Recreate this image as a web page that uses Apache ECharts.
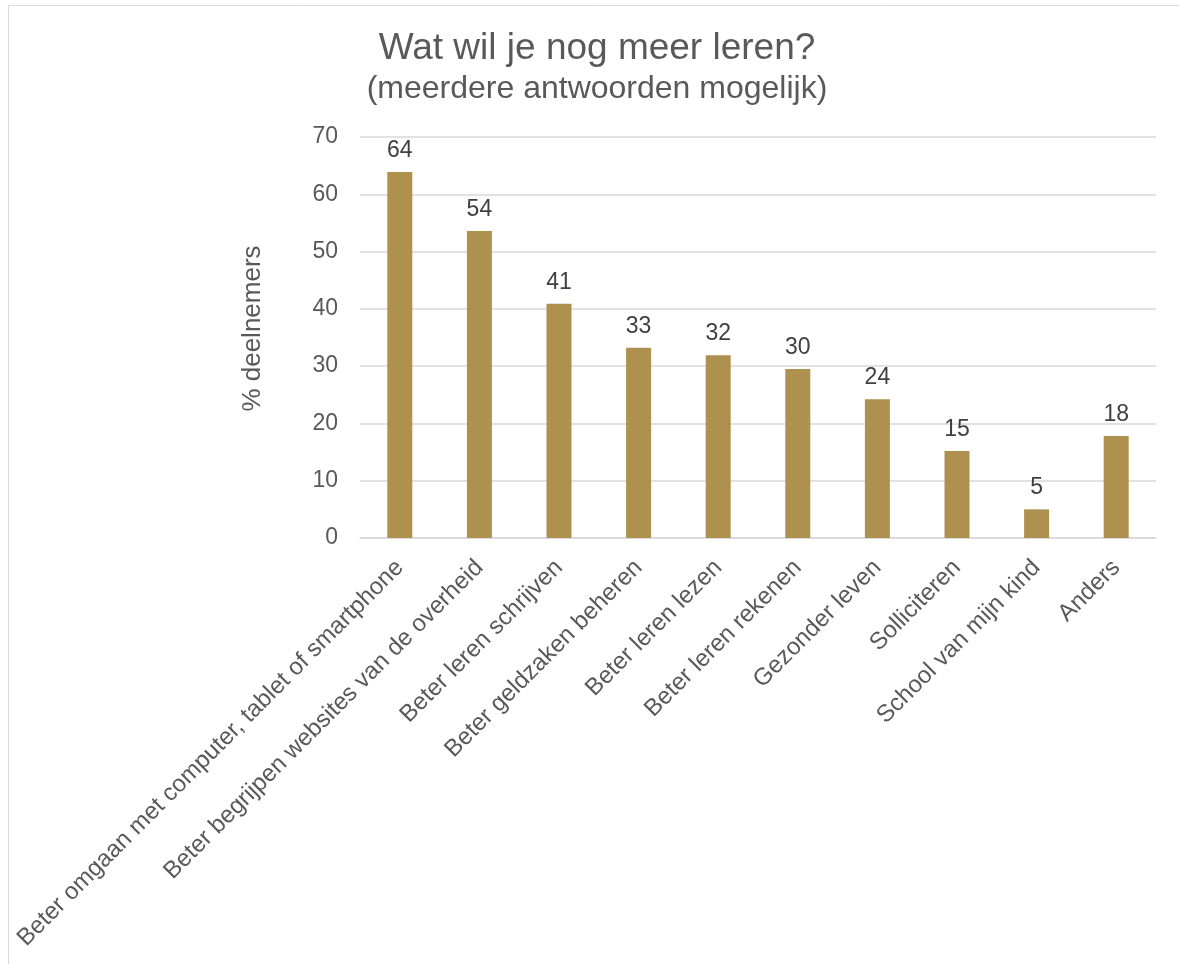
<!DOCTYPE html>
<html>
<head>
    <meta http-equiv="Content-Type" content="text/html; charset=utf-8">
    <title>Wat wil je nog meer leren?</title>
    <script src="https://cdn.jsdelivr.net/npm/echarts@6/dist/echarts.min.js"></script>
    <style>
        html, body {margin:0; padding:0; background:#fff;}
    </style>
</head>
<body>
    <div id="main" style="width: 1179px;height:964px;"></div>
    <script type="text/javascript">
        // data
        var categories = [
            'Beter omgaan met computer, tablet of smartphone',
            'Beter begrijpen websites van de overheid',
            'Beter leren schrijven',
            'Beter geldzaken beheren',
            'Beter leren lezen',
            'Beter leren rekenen',
            'Gezonder leven',
            'Solliciteren',
            'School van mijn kind',
            'Anders'
        ];
        var percentages = [63.9, 53.6, 40.9, 33.2, 31.9, 29.5, 24.2, 15.2, 5.0, 17.8];
        var yTicks = [0, 10, 20, 30, 40, 50, 60, 70];

        var font = 'Liberation Sans, Arial, sans-serif';
        var myChart = echarts.init(document.getElementById('main'));

        var option = {
            backgroundColor: '#fff',
            animation: false,
            textStyle: {fontFamily: font},
            graphic: [{
                type: 'rect',
                shape: {x: 8.5, y: 5.5, width: 1300, height: 1100},
                style: {fill: 'none', stroke: '#d9d9d9', lineWidth: 1},
                silent: true
            }],
            title: [{
                text: 'Wat wil je nog meer leren?',
                left: 592, top: 25, textAlign: 'center',
                textStyle: {fontFamily: font, fontSize: 37, fontWeight: 'normal', color: '#595959'}
            }, {
                text: '(meerdere antwoorden mogelijk)',
                left: 592, top: 68, textAlign: 'center',
                textStyle: {fontFamily: font, fontSize: 32, fontWeight: 'normal', color: '#595959'}
            }],
            grid: {left: 360, right: 23, top: 137, bottom: 426, containLabel: false},
            xAxis: {
                type: 'category',
                data: categories,
                axisTick: {show: false},
                axisLine: {lineStyle: {color: '#d9d9d9', width: 1.5}},
                axisLabel: {
                    interval: 0, rotate: 45, margin: 26,
                    fontFamily: font, fontSize: 24, color: '#595959'
                }
            },
            yAxis: {
                type: 'value',
                min: yTicks[0], max: yTicks[yTicks.length - 1], interval: 10,
                name: '% deelnemers',
                nameLocation: 'middle',
                nameGap: 94,
                nameTextStyle: {fontFamily: font, fontSize: 26, color: '#595959', padding: [0, 0, 0, 18]},
                axisLine: {show: false},
                axisTick: {show: false},
                axisLabel: {margin: 22, fontFamily: font, fontSize: 23, color: '#595959'},
                splitLine: {lineStyle: {color: '#d9d9d9', width: 1.5}}
            },
            series: [{
                type: 'bar',
                data: percentages,
                barWidth: 25,
                itemStyle: {color: '#AE914F'},
                label: {
                    show: true, position: 'top', distance: 10,
                    fontFamily: font, fontSize: 23, color: '#404040',
                    formatter: function (p) { return Math.round(p.value); }
                }
            }]
        };

        myChart.setOption(option);
    </script>
</body>
</html>
